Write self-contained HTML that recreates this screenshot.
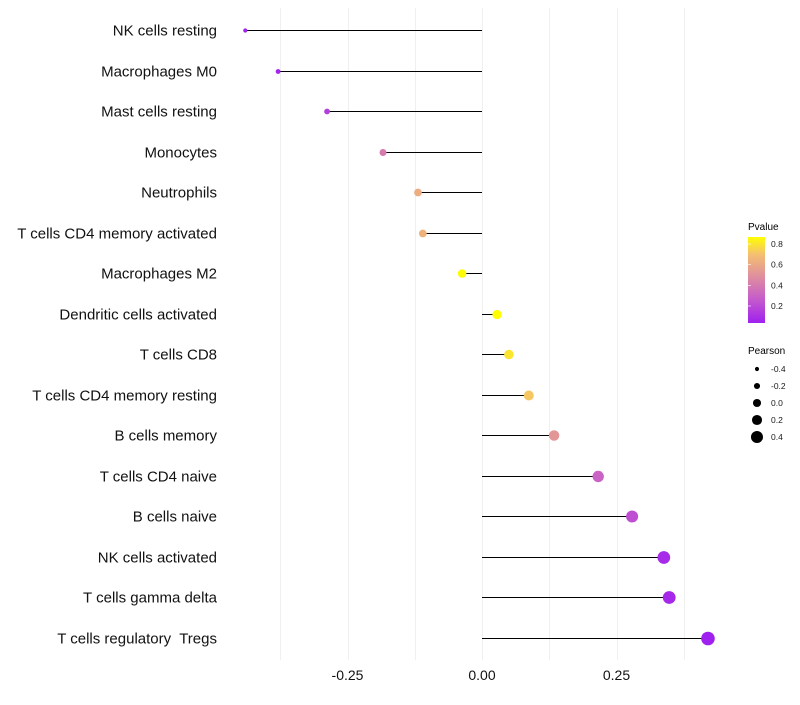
<!DOCTYPE html>
<html><head><meta charset="utf-8"><style>
body{margin:0;background:#fff;font-family:"Liberation Sans",sans-serif}
text{white-space:pre}
</style></head><body>
<svg id="chart" width="800" height="700" xmlns="http://www.w3.org/2000/svg">
<g id="grid"></g>
<g id="plot"></g>
<g id="ylabels"></g>
<g id="xlabels"></g>
<defs><linearGradient id="pg" x1="0" y1="1" x2="0" y2="0">
<stop offset="0" stop-color="#a020f0"/><stop offset="0.3" stop-color="#c860c8"/><stop offset="0.55" stop-color="#e0909c"/><stop offset="0.8" stop-color="#f4c070"/><stop offset="1" stop-color="#ffff00"/></linearGradient></defs>
<g>
<text x="748" y="230" font-size="10">Pvalue</text>
<rect x="748" y="237" width="17" height="86" fill="url(#pg)"/>
<g id="cbticks"></g>
</g>
<g>
<text x="748" y="354" font-size="10">Pearson</text>
<g id="sizeleg"></g>
</g>
</svg>
<script>
const categories=["NK cells resting","Macrophages M0","Mast cells resting","Monocytes","Neutrophils","T cells CD4 memory activated","Macrophages M2","Dendritic cells activated","T cells CD8","T cells CD4 memory resting","B cells memory","T cells CD4 naive","B cells naive","NK cells activated","T cells gamma delta","T cells regulatory  Tregs"];
const pearson=[-0.440,-0.379,-0.288,-0.184,-0.119,-0.110,-0.037,0.028,0.050,0.087,0.134,0.216,0.279,0.338,0.348,0.420];
const pvalue=[0.04,0.05,0.15,0.40,0.62,0.64,0.86,0.87,0.80,0.72,0.52,0.30,0.22,0.08,0.07,0.03];
const xTicks=[-0.25,0,0.25];
const xTickLabels=["-0.25","0.00","0.25"];
const cbTicks=[0.2,0.4,0.6,0.8];
const sizeLegend=[-0.4,-0.2,0.0,0.2,0.4];
const NS="http://www.w3.org/2000/svg";
const X=v=>482+v*538;
const Y=i=>Math.round(30+i*40.5)+0.5;
const R=p=>4.5+5.5*p;
const PV=v=>323-(v-0.035)*103.2;
function lerp(a,b,t){return a+(b-a)*t}
const stops=[[0,[160,32,240]],[0.3,[200,96,200]],[0.55,[224,144,156]],[0.8,[244,192,112]],[1,[255,255,0]]];
function col(p){let t=Math.max(0,Math.min(1,(p-0.035)/(0.868-0.035)));for(let k=1;k<stops.length;k++){if(t<=stops[k][0]){const a=stops[k-1],b=stops[k];const u=(t-a[0])/(b[0]-a[0]);return "rgb("+a[1].map((c,j)=>Math.round(lerp(c,b[1][j],u))).join(",")+")";}}return "#ff0";}
function mk(tag,at,par){const e=document.createElementNS(NS,tag);for(const k in at)e.setAttribute(k,at[k]);par.appendChild(e);return e;}
const grid=document.getElementById('grid');
[-0.375,-0.25,-0.125,0,0.125,0.25,0.375].forEach(v=>{const l=mk('line',{x1:Math.round(X(v))+0.5,x2:Math.round(X(v))+0.5,y1:8,y2:660,stroke:'#f0f0f0','stroke-width':1},grid);

});
const plot=document.getElementById('plot'),yl=document.getElementById('ylabels'),xl=document.getElementById('xlabels');
categories.forEach((c,i)=>{
const s=mk('line',{x1:X(0),x2:X(pearson[i]),y1:Y(i),y2:Y(i),stroke:'#000','stroke-width':1},plot);


const d=mk('circle',{cx:X(pearson[i]),cy:Y(i),r:R(pearson[i]),fill:col(pvalue[i])},plot);


const t=mk('text',{x:217,y:Y(i)+5,'text-anchor':'end','font-size':15,fill:'#111'},yl);t.textContent=c;


});
xTicks.forEach((v,i)=>{const t=mk('text',{x:X(v),y:680,'text-anchor':'middle','font-size':14,fill:'#111'},xl);t.textContent=xTickLabels[i];

});
const cb=document.getElementById('cbticks');
cbTicks.forEach(v=>{const y=PV(v);
const l=mk('line',{x1:748,x2:751,y1:y,y2:y,stroke:'#fff','stroke-width':0.6},cb);


const t=mk('text',{x:771,y:y+3,'font-size':8.5,fill:'#1a1a1a'},cb);t.textContent=v.toFixed(1);

});
const sl=document.getElementById('sizeleg');
sizeLegend.forEach((v,i)=>{const y=369+i*17;
const c=mk('circle',{cx:757,cy:y,r:R(v)*0.9,fill:'#000'},sl);


const t=mk('text',{x:771,y:y+3,'font-size':8.5,fill:'#1a1a1a'},sl);t.textContent=v.toFixed(1);

});
</script>
</body></html>
